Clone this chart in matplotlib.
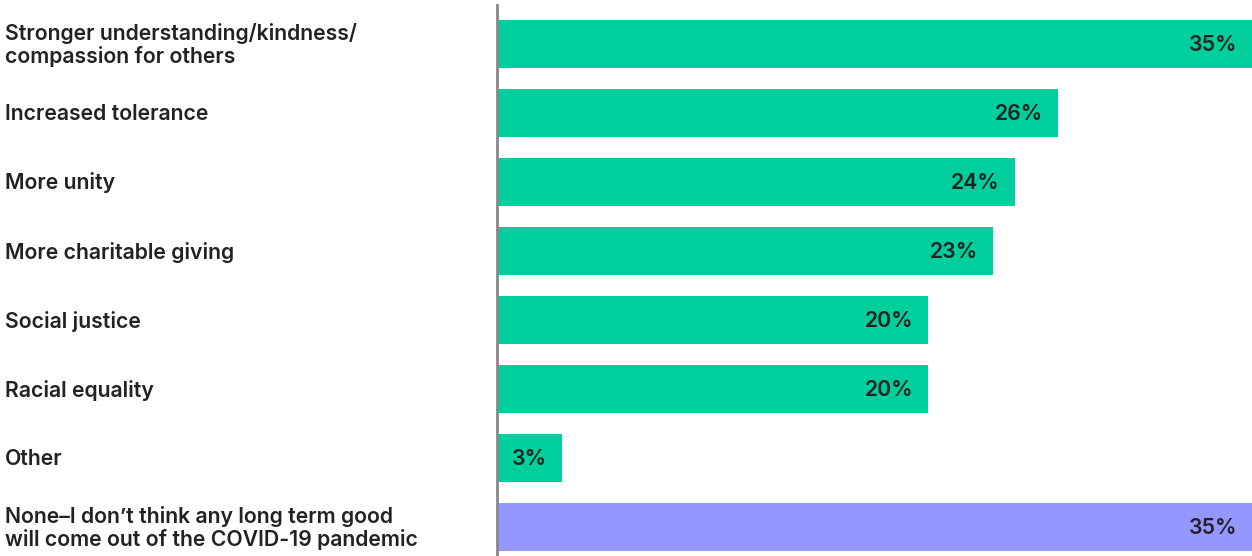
import matplotlib.pyplot as plt

# survey answers, top to bottom
labels = [
    "Stronger understanding/kindness/\ncompassion for others",
    "Increased tolerance",
    "More unity",
    "More charitable giving",
    "Social justice",
    "Racial equality",
    "Other",
    "None\u2013I don\u2019t think any long term good\nwill come out of the COVID-19 pandemic",
]
values = [35, 26, 24, 23, 20, 20, 3, 35]
bar_colors = ["#00CF9D"] * 7 + ["#9497FF"]

plt.rcParams['font.family'] = ['Inter', 'DejaVu Sans']

fig = plt.figure(figsize=(12.52, 5.56), dpi=100)
ax = fig.add_axes([497 / 1252, 0, 1 - 497 / 1252, 551 / 556])

pos = list(range(len(values)))
ax.barh(pos, values, height=0.70, color=bar_colors)
ax.set_xlim(0, 35)
ax.set_ylim(7 + 0.42, -0.565)

for p, v, lab in zip(pos, values, labels):
    ax.annotate(f"{v}%", xy=(v, p), xytext=(-15, -1), textcoords="offset pixels",
                ha="right", va="center", fontsize=15.3, color="#222222",
                fontweight="semibold")
    # category labels sit at the left edge of the figure
    ax.annotate(lab, xy=(0, p), xycoords=("figure fraction", "data"),
                xytext=(5, -1), textcoords="offset pixels",
                ha="left", va="center", fontsize=15.3, color="#222222",
                fontweight="semibold", linespacing=1.08, annotation_clip=False)

for s in ["top", "right", "bottom"]:
    ax.spines[s].set_visible(False)
ax.spines["left"].set_color("#888888")
ax.spines["left"].set_linewidth(2)
ax.set_xticks([])
ax.set_yticks([])

fig.savefig("out.png", dpi=100)
